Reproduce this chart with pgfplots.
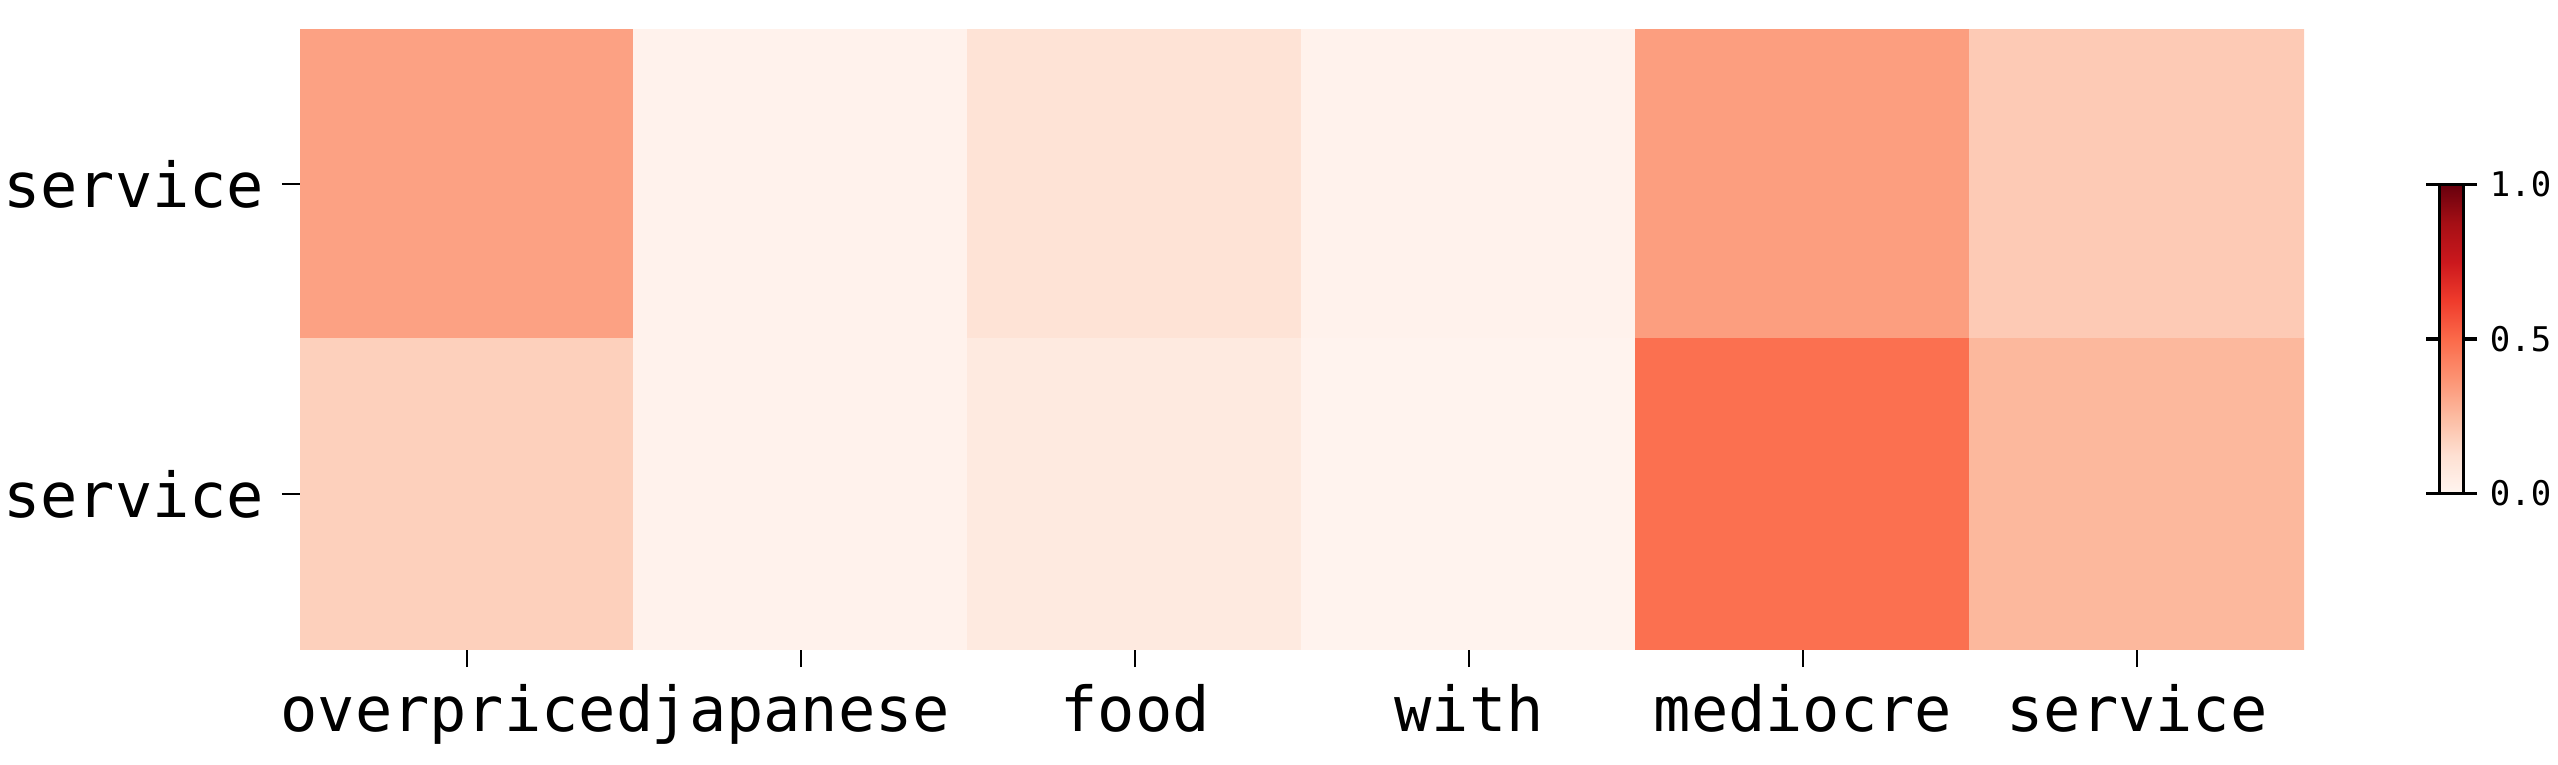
\documentclass[border=0pt]{standalone}
\usepackage{pgfplots}
\pgfplotsset{compat=1.18}
\usepackage{fontspec}
\setmainfont{DejaVu Sans Mono}
\pgfplotsset{
 colormap={reds}{rgb255=(255,245,240) rgb255=(254,224,210) rgb255=(252,187,161) rgb255=(252,146,114) rgb255=(251,106,74) rgb255=(239,59,44) rgb255=(203,24,29) rgb255=(165,15,21) rgb255=(103,0,13)}
}
\pgfplotstableread{
x y c
0 0 0.33
1 0 0.015
2 0 0.11
3 0 0.015
4 0 0.34
5 0 0.20
0 1 0.18
1 1 0.015
2 1 0.065
3 1 0.01
4 1 0.48
5 1 0.26
}\attn
\begin{document}
\begin{tikzpicture}
\useasboundingbox (0,0) rectangle (511.6pt,152.8pt);
\begin{axis}[
 scale only axis, width=400.8pt, height=124pt,
 at={(60pt,23pt)}, anchor=south west,
 xmin=-0.5, xmax=5.5, ymin=-0.5, ymax=1.5, y dir=reverse,
 axis line style={draw=none},
 xtick={0,...,5}, xticklabels={overpriced,japanese,food,with,mediocre,service},
 ytick={0,1}, yticklabels={service,service},
 tick align=outside, xtick pos=lower, ytick pos=left,
 major tick length=3.6pt, tick style={black, line width=0.5pt},
 ticklabel style={font=\fontsize{12.4}{14}\selectfont},
 point meta min=0, point meta max=1,
 colormap name=reds,
 colorbar right,
 colorbar style={
   at={(parent axis.east)}, anchor=west, xshift=18.6pt,
   width=4.8pt, height=61.8pt,
   ytick={0,0.5,1}, yticklabel pos=right,
   yticklabels={0.0,0.5,1.0},
   tick align=outside, major tick length=2.7pt,
   tick style={black, line width=0.7pt},
   axis line style={black, line width=0.7pt},
   yticklabel style={font=\fontsize{6.8}{8}\selectfont, xshift=-1pt},
 },
]
\addplot[matrix plot*, point meta=explicit, mesh/cols=6, mesh/rows=2] table[x=x, y=y, meta=c] {\attn};
\end{axis}
\end{tikzpicture}
\end{document}
